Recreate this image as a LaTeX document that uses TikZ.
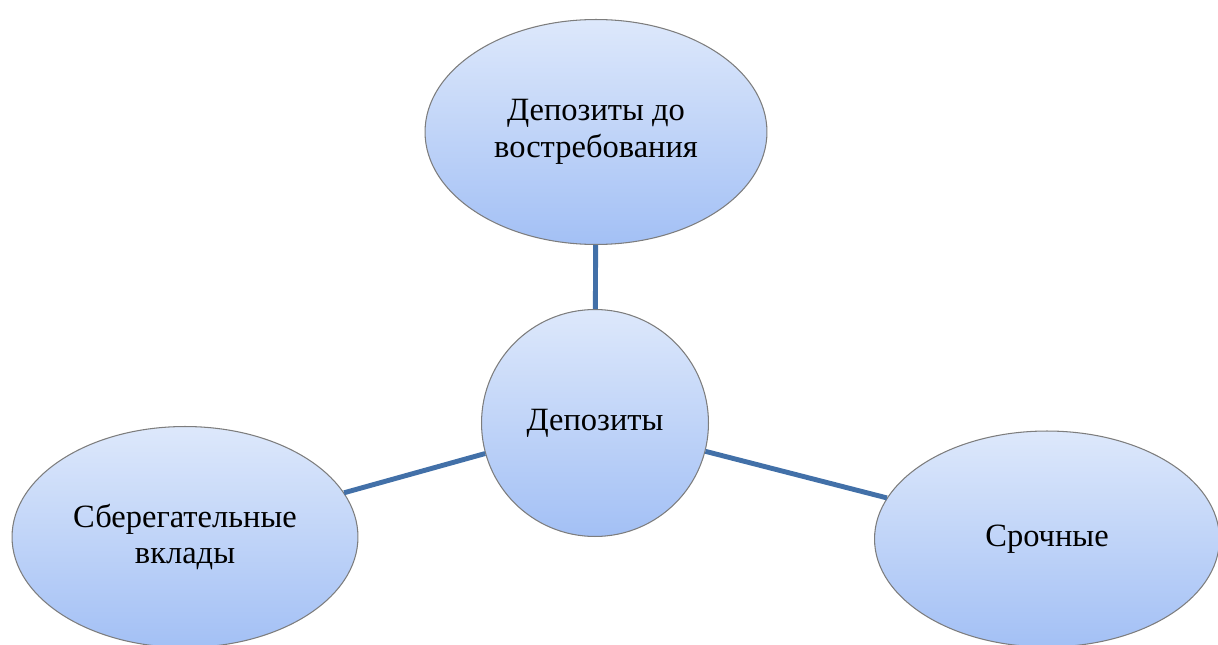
\documentclass[tikz,border=0pt]{standalone}
\usepackage{fontspec}
\setmainfont{Liberation Serif}
\usetikzlibrary{shapes.geometric}
\definecolor{topblue}{RGB}{221,232,251}
\definecolor{botblue}{RGB}{163,192,245}
\definecolor{linkblue}{RGB}{66,112,168}
\definecolor{rimgray}{RGB}{125,125,125}
\tikzset{
  bubble/.style={ellipse,draw=rimgray,line width=0.6pt,top color=topblue,bottom color=botblue,
    inner sep=0pt,align=center,font=\fontsize{18.5}{21}\selectfont},
  link/.style={draw=linkblue,line width=2.8pt}
}
\begin{document}
\begin{tikzpicture}[x=0.02cm,y=-0.02cm]
  \clip (0,0) rectangle (1218,645);
  \useasboundingbox (0,0) rectangle (1218,645);

  \node[bubble,minimum width=6.84cm,minimum height=4.5cm] (demand) at (596,132) {Депозиты до\\востребования};
  \node[bubble,minimum width=4.54cm,minimum height=4.54cm] (deposits) at (595,423) {Депозиты};
  \node[bubble,minimum width=6.92cm,minimum height=4.42cm] (savings) at (185,537) {Сберегательные\\вклады};
  \node[bubble,minimum width=6.9cm,minimum height=4.32cm] (term) at (1047,539) {Срочные};

  \path[link] (deposits) -- (demand);
  \path[link] (deposits) -- (savings);
  \path[link] (deposits) -- (term);
\end{tikzpicture}
\end{document}
